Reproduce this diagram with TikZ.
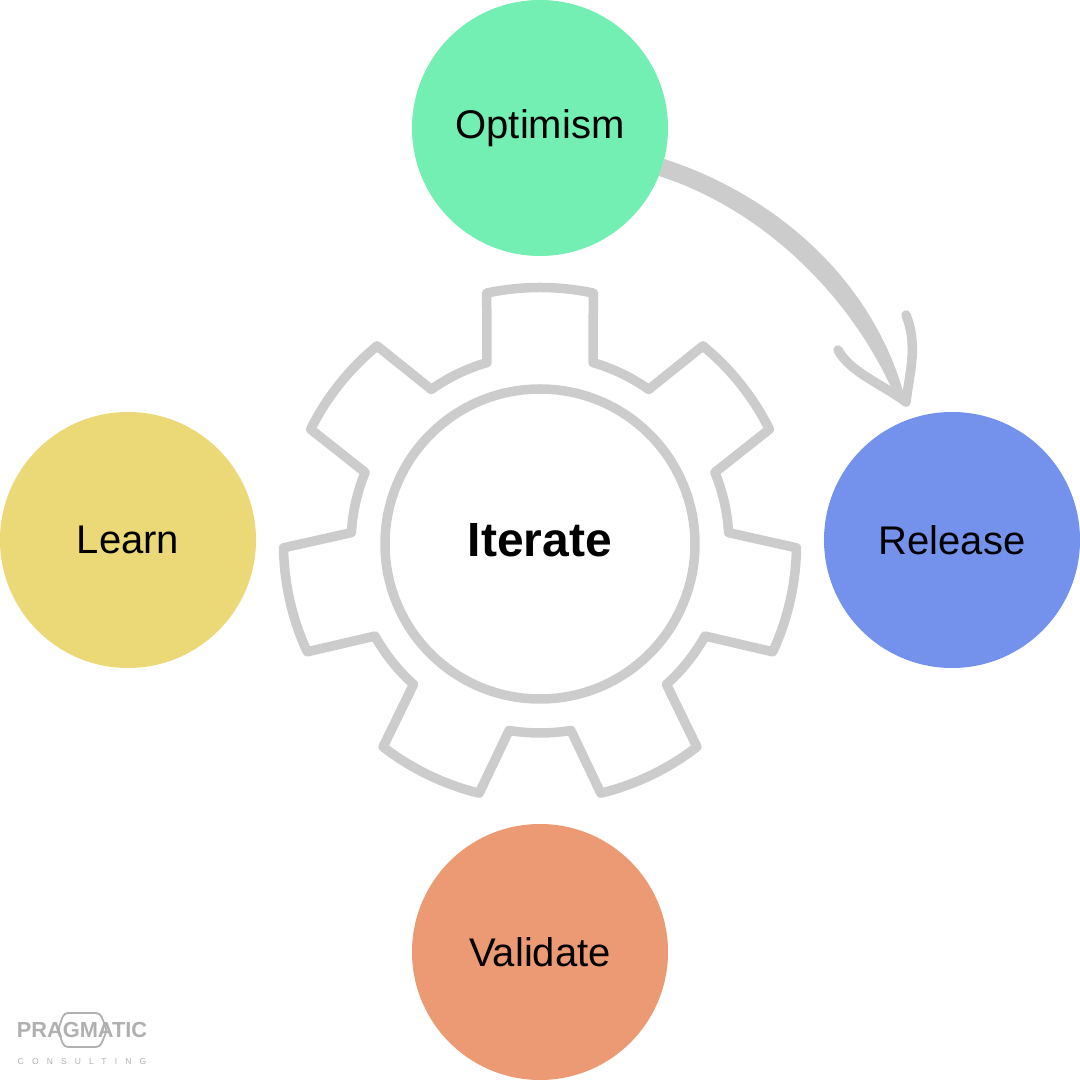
\documentclass[tikz,border=0pt]{standalone}
\usepackage{fontspec}
\usetikzlibrary{positioning}
\setmainfont{Liberation Sans}
\newfontfamily\subfont[LetterSpace=96]{Liberation Sans}
\definecolor{optimismgreen}{HTML}{74EFB3}
\definecolor{releaseblue}{HTML}{7491EB}
\definecolor{learnyellow}{HTML}{EBD876}
\definecolor{validateorange}{HTML}{EB9A74}
\definecolor{lightgray}{HTML}{CCCCCC}
\definecolor{logogray}{HTML}{B0B0B0}
\tikzset{
  phase/.style={circle,minimum size=256pt,inner sep=0pt,font=\fontsize{40}{46}\selectfont},
  gearline/.style={draw=lightgray,line width=9.5pt,line join=round,line cap=round},
}
\begin{document}
\begin{tikzpicture}[x=1pt,y=1pt]
  \useasboundingbox (0,0) rectangle (1080,1080);
  \node[phase,fill=optimismgreen] (optimism) at (540,952) {Optimism};
  \node[phase,fill=releaseblue] (release) at (952,540) {Release};
  \node[phase,fill=learnyellow] (learn) at (128,540) {Learn};
  \node[phase,fill=validateorange] (validate) at (540,128) {Validate};
  \coordinate (gearcenter) at (540,536);
  \coordinate (arrowtip) at (906,678);
  % the gear
  \draw[gearline,shift={(gearcenter)}] (102:256.5)
    \foreach \i [evaluate=\i as \a using 90-\i*360/7] in {0,...,6} {
      arc[start angle=\a+12,end angle=\a-12,radius=256.5]
      -- (\a-16.3:189)
      arc[start angle=\a-16.3,end angle=\a-35.13,radius=189]
      -- (\a-39.43:256.5)
    } -- cycle;
  \node[circle,gearline,minimum size=310pt,inner sep=0pt] (ring) at (gearcenter) {};
  \node[font=\fontsize{48}{54}\selectfont\bfseries] (iterate) at (540,540) {Iterate};
  % the arrow
  \fill[lightgray] (optimism.-14) .. controls (775,885) and (875,800) .. (arrowtip)
    -- (890,695) .. controls (840,800) and (750,875) .. (optimism.-22) -- cycle;
  \draw[gearline] (838,730) .. controls (850,708) and (880,697) .. (arrowtip);
  \draw[gearline] (906,765) .. controls (918,735) and (910,710) .. (arrowtip);
  % the logo
  \draw[logogray,line width=1.8pt,rounded corners=4pt] (58,50) -- (64,67) -- (100,67) -- (107,50) -- (100,33) -- (64,33) -- cycle;
  \node[text=logogray,font=\fontsize{21.8}{24}\selectfont\bfseries,inner sep=0pt] (logoname) at (82,50) {PRAGMATIC};
  \node[text=logogray,font=\subfont\fontsize{8.5}{10}\selectfont,inner sep=0pt,below=20pt of logoname] (logosub) {CONSULTING};
\end{tikzpicture}
\end{document}
